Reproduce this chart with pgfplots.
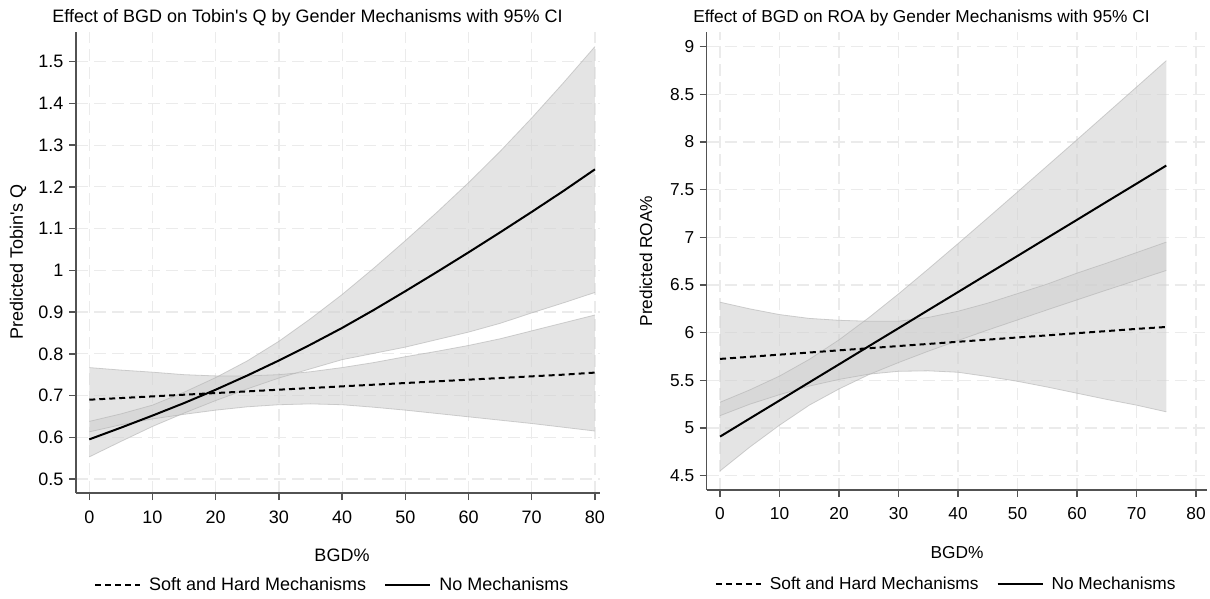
\documentclass[border=0pt]{standalone}
\usepackage{pgfplots}
\pgfplotsset{compat=1.18}
\usepackage{pgfplotstable}
\usepgfplotslibrary{fillbetween}
\usepackage{fontspec}
\setmainfont{Liberation Sans}

\pgfplotstableread{
x sl slo shi nl nlo nhi
0 0.690 0.613 0.767 0.595 0.553 0.638
5 0.694 0.630 0.761 0.623 0.590 0.656
10 0.698 0.644 0.756 0.652 0.626 0.677
15 0.702 0.655 0.750 0.682 0.658 0.708
20 0.706 0.665 0.747 0.714 0.688 0.743
25 0.710 0.673 0.747 0.748 0.716 0.783
30 0.714 0.678 0.750 0.784 0.742 0.830
35 0.718 0.680 0.757 0.822 0.764 0.884
40 0.722 0.678 0.767 0.862 0.786 0.942
45 0.726 0.672 0.779 0.905 0.801 1.005
50 0.730 0.665 0.793 0.950 0.816 1.071
55 0.734 0.657 0.806 0.996 0.834 1.139
60 0.738 0.649 0.820 1.043 0.852 1.210
65 0.742 0.641 0.836 1.091 0.873 1.285
70 0.746 0.633 0.855 1.140 0.898 1.365
75 0.750 0.624 0.874 1.190 0.922 1.449
80 0.755 0.615 0.893 1.242 0.947 1.536
}\tobin

\pgfplotstableread{
x sl slo shi nl nlo nhi
0 5.725 5.13 6.32 4.910 4.550 5.270
5 5.747 5.25 6.25 5.100 4.800 5.400
10 5.770 5.35 6.19 5.289 5.030 5.545
15 5.792 5.44 6.15 5.479 5.240 5.720
20 5.815 5.51 6.13 5.668 5.410 5.925
25 5.837 5.565 6.12 5.858 5.560 6.157
30 5.860 5.595 6.12 6.047 5.687 6.407
35 5.882 5.60 6.16 6.237 5.806 6.668
40 5.905 5.585 6.225 6.426 5.918 6.934
45 5.927 5.54 6.31 6.616 6.028 7.204
50 5.950 5.49 6.41 6.805 6.134 7.476
55 5.972 5.43 6.51 6.995 6.240 7.750
60 5.995 5.365 6.625 7.184 6.344 8.024
65 6.017 5.30 6.73 7.374 6.448 8.300
70 6.040 5.24 6.84 7.563 6.550 8.576
75 6.060 5.17 6.95 7.753 6.653 8.853
}\roa

\pgfplotsset{
  mystyle/.style={
    scale only axis,
    axis x line*=bottom, axis y line*=left,
    axis line style={-, draw=black!68, line width=1.4pt},
    tick align=outside,
    major tick length=7pt,
    tick style={draw=black!68, line width=1.4pt},
    grid=major,
    major grid style={draw=black!8, line width=1.2pt, dash pattern=on 12pt off 6pt},
    xtick={0,10,20,30,40,50,60,70,80},
    ticklabel style={font=\fontsize{#1}{#1}\selectfont},
    xticklabel style={yshift=-7pt},
    yticklabel style={xshift=-2pt},
    /pgf/number format/assume math mode=true,
    legend columns=2,
    legend style={draw=none, fill=none, font=\fontsize{#1}{#1}\selectfont,
      /tikz/column 1/.style={column sep=6pt},
      /tikz/column 2/.style={column sep=16pt},
      /tikz/column 3/.style={column sep=6pt}},
    legend image code/.code={\draw[##1] (0pt,0pt) -- (45pt,0pt);},
  },
  band/.style={fill=black!19, fill opacity=0.56, draw=none},
  edge/.style={draw=black!30, draw opacity=0.6, line width=0.8pt},
}

\begin{document}
\begin{tikzpicture}
\path (0pt,0pt) rectangle (1210pt,-599pt);

\begin{axis}[mystyle=18,
  at={(76pt,-493pt)}, anchor=south west,
  width=524pt, height=461pt,
  xmin=-2.1, xmax=80.8, ymin=0.4665, ymax=1.571,
  ytick={0.5,0.6,0.7,0.8,0.9,1,1.1,1.2,1.3,1.4,1.5},
  legend style={at={(0.489,-0.2)}, anchor=center},
]
\addplot[name path=slo, edge, forget plot] table[x=x,y=slo]{\tobin};
\addplot[name path=shi, edge, forget plot] table[x=x,y=shi]{\tobin};
\addplot[band, forget plot] fill between[of=slo and shi];
\addplot[name path=nlo, edge, forget plot] table[x=x,y=nlo]{\tobin};
\addplot[name path=nhi, edge, forget plot] table[x=x,y=nhi]{\tobin};
\addplot[band, forget plot] fill between[of=nlo and nhi];
\addplot[black, line width=2pt, dash pattern=on 6pt off 4pt] table[x=x,y=sl]{\tobin};
\addlegendentry{Soft and Hard Mechanisms}
\addplot[black, line width=2pt] table[x=x,y=nl]{\tobin};
\addlegendentry{No Mechanisms}
\end{axis}

\begin{axis}[mystyle=17.3,
  at={(706.7pt,-490pt)}, anchor=south west,
  width=500pt, height=458pt,
  xmin=-2.24, xmax=81.8, ymin=4.35, ymax=9.154,
  ytick={4.5,5,5.5,6,6.5,7,7.5,8,8.5,9},
  legend style={at={(0.479,-0.205)}, anchor=center},
]
\addplot[name path=slo, edge, forget plot] table[x=x,y=slo]{\roa};
\addplot[name path=shi, edge, forget plot] table[x=x,y=shi]{\roa};
\addplot[band, forget plot] fill between[of=slo and shi];
\addplot[name path=nlo, edge, forget plot] table[x=x,y=nlo]{\roa};
\addplot[name path=nhi, edge, forget plot] table[x=x,y=nhi]{\roa};
\addplot[band, forget plot] fill between[of=nlo and nhi];
\addplot[black, line width=2pt, dash pattern=on 6pt off 4pt] table[x=x,y=sl]{\roa};
\addlegendentry{Soft and Hard Mechanisms}
\addplot[black, line width=2pt] table[x=x,y=nl]{\roa};
\addlegendentry{No Mechanisms}
\end{axis}

\node[font=\fontsize{18}{18}\selectfont] at (307.5pt,-18pt) {Effect of BGD on Tobin\textquotesingle s Q by Gender Mechanisms with 95\% CI};
\node[font=\fontsize{17.3}{17.3}\selectfont] at (921.5pt,-18pt) {Effect of BGD on ROA by Gender Mechanisms with 95\% CI};
\node[font=\fontsize{18}{18}\selectfont, rotate=90] at (18pt,-262pt) {Predicted Tobin\textquotesingle s Q};
\node[font=\fontsize{17.3}{17.3}\selectfont, rotate=90] at (646pt,-261pt) {Predicted ROA\%};
\node[font=\fontsize{18}{18}\selectfont] at (342pt,-555pt) {BGD\%};
\node[font=\fontsize{17.3}{17.3}\selectfont] at (957pt,-553pt) {BGD\%};
\end{tikzpicture}
\end{document}
